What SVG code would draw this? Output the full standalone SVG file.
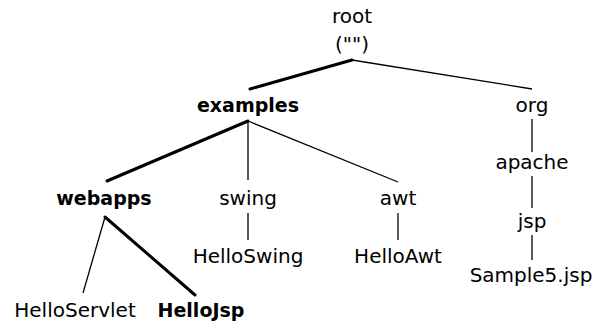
<svg xmlns="http://www.w3.org/2000/svg" width="598" height="322" viewBox="0 0 598 322">
<style>
text{font-family:"DejaVu Sans","Liberation Sans",sans-serif;font-size:20px;fill:#000;text-anchor:middle}
.b{font-weight:bold;font-size:19px}
.e{stroke:#000;stroke-width:1.3;fill:none}
.eb{stroke:#000;stroke-width:3;fill:none;stroke-linecap:round}
</style>
<rect width="598" height="322" fill="#fff"/>
<g id="connectors">
<line class="eb" x1="352" y1="60" x2="250" y2="89"/>
<line class="e" x1="352" y1="60" x2="532" y2="89"/>
<line class="eb" x1="248" y1="121" x2="107" y2="181"/>
<line class="e" x1="248" y1="121" x2="248" y2="180"/>
<line class="e" x1="248" y1="121" x2="398" y2="182"/>
<line class="e" x1="105" y1="217" x2="83" y2="293"/>
<line class="eb" x1="105" y1="217" x2="195" y2="295"/>
<line class="e" x1="248" y1="213" x2="248" y2="240"/>
<line class="e" x1="398" y1="213" x2="398" y2="240"/>
<line class="e" x1="532" y1="119" x2="532" y2="152"/>
<line class="e" x1="532" y1="176" x2="532" y2="208"/>
<line class="e" x1="532" y1="235" x2="532" y2="260"/>
</g>
<g id="root"><text x="352" y="23">root</text><text x="352" y="51">("")</text></g>
<g id="examples"><text class="b" x="248" y="112">examples</text></g>
<g id="org"><text x="532" y="112">org</text></g>
<g id="webapps"><text class="b" x="104" y="205">webapps</text></g>
<g id="swing"><text x="248" y="205">swing</text></g>
<g id="awt"><text x="398" y="205">awt</text></g>
<g id="apache"><text x="532" y="169">apache</text></g>
<g id="HelloSwing"><text x="248" y="263">HelloSwing</text></g>
<g id="HelloAwt"><text x="398" y="263">HelloAwt</text></g>
<g id="jsp"><text x="532" y="228">jsp</text></g>
<g id="Sample5"><text x="531" y="282">Sample5.jsp</text></g>
<g id="HelloServlet"><text x="75" y="317">HelloServlet</text></g>
<g id="HelloJsp"><text class="b" x="201" y="317">HelloJsp</text></g>
</svg>
